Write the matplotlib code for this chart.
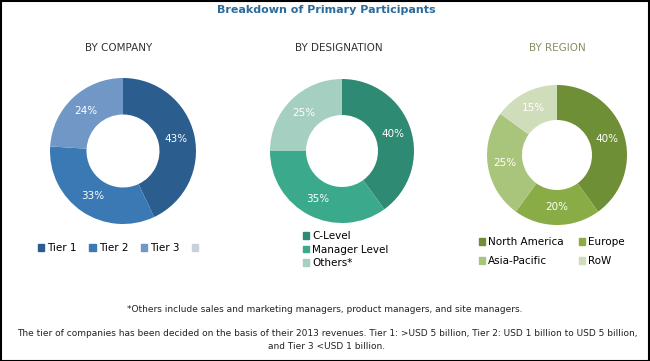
import matplotlib.pyplot as plt
import matplotlib.patches as mpatches

# data
company_labels = ['Tier 1', 'Tier 2', 'Tier 3', '']
company_values = [43, 33, 24, 0]
company_colors = ['#2b5e8e', '#3a79b4', '#7097c6', '#c9d0da']

desig_labels = ['C-Level', 'Manager Level', 'Others*']
desig_values = [40, 35, 25]
desig_colors = ['#2e8a72', '#3ba98c', '#a4cfc1']

region_labels = ['North America', 'Europe', 'Asia-Pacific', 'RoW']
region_values = [40, 20, 25, 15]
region_colors = ['#6e8f36', '#8aac47', '#a9c57c', '#d0ddbb']

W, H = 650, 361
fig = plt.figure(figsize=(6.5, 3.61), dpi=100)
fig.patch.set_facecolor('white')

def donut(cx, cy, r, values, colors):
    ax = fig.add_axes([(cx - r) / W, (H - cy - r) / H, 2 * r / W, 2 * r / H])
    vals = [v for v in values if v > 0]
    cols = colors[:len(vals)]
    ax.pie(vals, colors=cols, startangle=90, counterclock=False,
           radius=1, wedgeprops=dict(width=0.5, edgecolor='none'),
           autopct='%d%%', pctdistance=0.75,
           textprops=dict(color='white', fontsize=7.5))
    ax.set_xlim(-1, 1)
    ax.set_ylim(-1, 1)
    ax.set_aspect('equal')
    ax.axis('off')
    return ax

donut(123, 151, 73, company_values, company_colors)
donut(342, 151, 72, desig_values, desig_colors)
donut(557, 155, 70, region_values, region_colors)

fig.text(326 / W, 1 - 10 / H, 'Breakdown of Primary Participants', ha='center', va='center',
         fontsize=8, fontweight='bold', color='#2a6b9c')
fig.text(119 / W, 1 - 48 / H, 'BY COMPANY', ha='center', va='center', fontsize=7.5,
         color='#333333')
fig.text(339 / W, 1 - 48 / H, 'BY DESIGNATION', ha='center', va='center', fontsize=7.5,
         color='#333333')
fig.text(557 / W, 1 - 48 / H, 'BY REGION', ha='center', va='center', fontsize=7.5,
         color='#8c8d5e')

def handles(colors):
    return [mpatches.Patch(color=c) for c in colors]

leg_kw = dict(frameon=False, handlelength=0.6, handleheight=0.6, handletextpad=0.3,
              fontsize=7.5, borderpad=0, borderaxespad=0)

fig.legend(handles(company_colors), company_labels, ncol=4, loc='center left',
           bbox_to_anchor=(38 / W, 1 - 248 / H), columnspacing=1.2, **leg_kw)
fig.legend(handles(desig_colors), desig_labels, ncol=1, loc='upper left',
           bbox_to_anchor=(303 / W, 1 - 231 / H), labelspacing=0.35, **leg_kw)
# two columns, row-wise order like the reference
order = [0, 2, 1, 3]
fig.legend(handles([region_colors[i] for i in order]), [region_labels[i] for i in order],
           ncol=2, loc='upper left', bbox_to_anchor=(479 / W, 1 - 237 / H),
           labelspacing=0.9, columnspacing=1.4, **leg_kw)

fig.text(325 / W, 1 - 309 / H,
         '*Others include sales and marketing managers, product managers, and site managers.',
         ha='center', va='center', fontsize=6.5, color='#222222')
fig.text(327 / W, 1 - 340 / H,
         'The tier of companies has been decided on the basis of their 2013 revenues. Tier 1: >USD 5 billion, Tier 2: USD 1 billion to USD 5 billion,\nand Tier 3 <USD 1 billion.',
         ha='center', va='center', fontsize=6.5, color='#222222', linespacing=1.5)

fig.patches.append(mpatches.Rectangle((0.5 / W, 0.5 / H), 1 - 1.5 / W, 1 - 1.5 / H,
                                      transform=fig.transFigure, fill=False,
                                      edgecolor='black', linewidth=1.5))

plt.savefig('out.png', dpi=100)
